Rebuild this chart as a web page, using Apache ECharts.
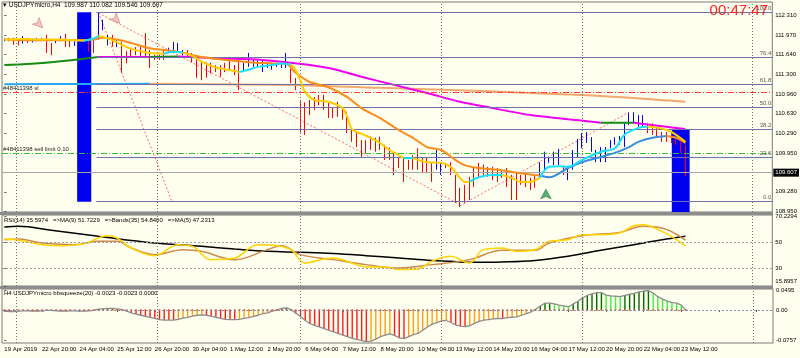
<!DOCTYPE html>
<html><head><meta charset="utf-8">
<script src="https://cdn.jsdelivr.net/npm/echarts@6/dist/echarts.min.js"></script>
<style>html,body{margin:0;padding:0;background:#fffff0}#c{width:800px;height:358px}</style>
</head><body><div id="c"></div>
<script>
// ---------------- DATA ----------------
const tickLabels = ['19 Apr 2019','22 Apr 20:00','24 Apr 04:00','25 Apr 12:00','26 Apr 20:00','30 Apr 04:00','1 May 12:00','2 May 20:00','6 May 04:00','7 May 12:00','8 May 20:00','10 May 04:00','13 May 12:00','14 May 20:00','16 May 04:00','17 May 12:00','20 May 20:00','22 May 04:00','23 May 12:00'];
// H4 bars [open, close, low, high]
const ohlc = [
[111.88,111.91,111.87,111.92],[111.91,111.89,111.87,111.93],[111.92,111.83,111.81,111.93],[111.88,111.82,111.80,111.90],
[111.84,111.95,111.83,111.96],[111.92,111.86,111.84,111.93],[111.86,111.91,111.85,111.92],[111.89,111.92,111.87,111.93],
[111.91,111.90,111.88,111.93],[111.95,111.70,111.67,111.98],[111.80,111.66,111.63,111.84],[111.85,111.90,111.84,111.91],
[111.88,111.95,111.87,111.96],[111.98,111.80,111.77,112.00],[111.88,111.79,111.77,111.89],[111.80,111.90,111.79,111.91],
[111.84,111.90,111.82,111.92],[111.86,111.92,111.84,111.94],[111.88,111.72,111.69,111.89],[111.86,111.70,111.67,111.89],
[111.92,112.25,111.90,112.36],[112.08,112.21,112.06,112.24],[111.82,111.96,111.80,111.98],[111.95,111.80,111.78,111.98],
[111.78,111.87,111.77,111.89],[111.84,111.36,111.33,111.86],[111.68,111.52,111.49,111.70],[111.74,111.62,111.60,111.76],
[111.74,111.65,111.63,111.77],[111.75,111.62,111.60,111.77],[111.80,111.62,111.60,112.01],[111.70,111.43,111.41,111.72],
[111.62,111.56,111.55,111.64],[111.62,111.56,111.55,111.64],[111.70,111.57,111.55,111.72],[111.68,111.74,111.67,111.76],
[111.68,111.83,111.67,111.86],[111.70,111.82,111.67,111.84],[111.65,111.70,111.63,111.72],[111.71,111.62,111.60,111.72],
[111.66,111.53,111.51,111.67],[111.59,111.27,111.24,111.60],[111.50,111.23,111.20,111.51],[111.50,111.26,111.24,111.51],
[111.48,111.35,111.32,111.50],[111.45,111.36,111.34,111.46],[111.45,111.28,111.26,111.46],[111.48,111.36,111.34,111.50],
[111.56,111.40,111.38,111.58],[111.45,111.31,111.29,111.46],[111.56,111.06,111.03,111.58],[111.36,111.48,111.34,111.50],
[111.45,111.64,111.43,111.67],[111.45,111.53,111.43,111.55],[111.44,111.53,111.41,111.55],[111.38,111.53,111.34,111.55],
[111.43,111.50,111.41,111.51],[111.40,111.48,111.38,111.50],[111.44,111.48,111.43,111.50],[111.43,111.49,111.41,111.50],
[111.44,111.52,111.41,111.67],[111.38,111.17,111.15,111.40],[111.22,111.05,111.03,111.24],[110.82,110.40,110.30,110.84],
[110.78,110.32,110.26,110.82],[110.84,110.62,110.60,110.86],[110.89,110.71,110.69,110.91],[110.93,110.79,110.77,110.95],
[110.93,110.71,110.69,110.95],[110.79,110.57,110.55,110.81],[110.72,110.57,110.55,110.74],[110.81,110.59,110.57,110.83],
[110.70,110.54,110.52,110.72],[110.64,110.32,110.29,110.66],[110.33,110.16,110.14,110.35],[110.28,110.08,110.05,110.30],
[110.16,109.91,109.88,110.17],[110.16,109.97,109.95,110.17],[110.21,110.02,110.00,110.23],[110.19,109.99,109.97,110.21],
[110.21,110.02,110.00,110.23],[110.07,109.85,109.83,110.09],[110.02,109.85,109.83,110.04],[109.93,109.60,109.57,109.95],
[109.86,109.71,109.69,109.88],[109.86,109.48,109.45,109.88],[109.81,109.68,109.66,109.83],[109.89,109.68,109.66,109.91],
[110.01,109.68,109.66,110.03],[109.84,109.63,109.60,109.86],[109.84,109.63,109.60,109.86],[109.76,109.48,109.45,109.78],
[109.68,109.97,109.66,110.00],[109.59,109.77,109.57,109.79],[109.76,109.71,109.69,109.78],[109.77,109.59,109.57,109.79],
[109.55,109.12,109.09,109.57],[109.33,109.05,109.02,109.35],[109.38,109.12,109.09,109.40],[109.52,109.17,109.14,109.54],
[109.69,109.39,109.36,109.71],[109.76,109.54,109.52,109.78],[109.73,109.56,109.54,109.75],[109.69,109.56,109.54,109.71],
[109.69,109.51,109.48,109.71],[109.67,109.47,109.45,109.69],[109.64,109.54,109.52,109.66],[109.67,109.39,109.36,109.69],
[109.55,109.17,109.14,109.57],[109.60,109.17,109.14,109.62],[109.55,109.42,109.40,109.57],[109.58,109.39,109.36,109.60],
[109.50,109.34,109.31,109.52],[109.55,109.37,109.35,109.57],[109.52,109.77,109.50,109.79],[109.68,109.94,109.66,109.97],
[109.79,109.86,109.78,109.88],[109.76,109.94,109.74,109.97],[109.76,109.99,109.74,110.02],[109.71,109.59,109.57,109.73],
[109.51,109.68,109.48,109.71],[109.68,109.97,109.66,110.00],[109.90,110.16,109.88,110.19],[110.06,110.27,110.03,110.29],
[110.14,110.29,110.12,110.31],[110.00,110.20,109.97,110.22],[109.82,109.98,109.79,110.00],[109.82,110.03,109.79,110.05],
[109.82,110.03,109.79,110.05],[110.06,110.15,110.03,110.17],[110.11,110.20,110.09,110.22],[110.11,110.22,110.09,110.24],
[110.06,110.44,110.05,110.46],[110.45,110.61,110.43,110.64],[110.48,110.63,110.46,110.65],[110.41,110.58,110.40,110.60],
[110.41,110.58,110.40,110.60],[110.45,110.31,110.29,110.46],[110.44,110.28,110.26,110.46],[110.38,110.24,110.22,110.40],
[110.29,110.16,110.14,110.31],[110.29,110.16,110.14,110.31],[110.28,110.14,110.12,110.29],[110.21,110.10,110.09,110.22],
[110.12,109.97,109.95,110.14],[109.987,109.607,109.546,110.082]
];
const bidPrice = 109.607;
const priceTicks = [108.95,109.28,109.95,110.29,110.63,110.96,111.30,111.64,111.97,112.31];

// moving averages, [bar index, price]
const fastMA = [[0,111.90],[4,111.91],[8,111.90],[12,111.90],[15,111.89],[17,111.88],[19,111.92],[20,111.96],[22,111.92],[24,111.85],[27,111.74],[31,111.67],[34,111.66],[36,111.69],[38,111.68],[40,111.62],[42,111.52],[45,111.42],[47,111.39],[50,111.34],[52,111.38],[54,111.43],[57,111.46],[59,111.49],[61,111.47],[62,111.38],[63,111.20],[64,111.00],[66,110.86],[69,110.83],[72,110.72],[73,110.57],[74,110.36],[76,110.28],[78,110.21],[80,110.12],[82,110.00],[84,109.91],[85,109.86],[87,109.86],[88,109.83],[90,109.79],[93,109.78],[95,109.71],[97,109.52],[98,109.45],[99,109.45],[101,109.53],[104,109.57],[106,109.57],[108,109.52],[110,109.45],[112,109.45],[113,109.48],[114,109.52],[116,109.71],[118,109.72],[120,109.71],[123,109.83],[127,109.97],[130,110.03],[132,110.26],[135,110.38],[137,110.40],[140,110.37],[142,110.31],[145,110.14]];
const fastMAState = [[0,17,'down'],[17,20,'up'],[20,34,'down'],[34,38,'up'],[38,50,'down'],[50,61,'up'],[61,85,'down'],[85,87,'up'],[87,99,'down'],[99,106,'up'],[106,114,'down'],[114,137,'up'],[137,145,'down']];
const slowMA = [[0,111.90],[5,111.89],[10,111.89],[15,111.89],[19,111.90],[21,111.93],[24,111.90],[27,111.84],[31,111.75],[34,111.72],[37,111.69],[42,111.60],[47,111.55],[52,111.51],[57,111.49],[60,111.48],[62,111.33],[65,111.17],[69,111.08],[73,110.91],[76,110.72],[80,110.55],[84,110.34],[87,110.21],[90,110.05],[93,110.00],[96,109.83],[98,109.74],[101,109.69],[105,109.66],[110,109.60],[114,109.56],[116,109.53],[120,109.69],[123,109.79],[127,109.88],[130,109.95],[133,110.05],[135,110.14],[138,110.21],[141,110.24],[143,110.21],[145,110.12]];
const slowMAState = [[0,114,'down'],[114,141,'up'],[141,145,'down']];
const longMA = [[0,111.46],[10,111.51],[20,111.60],[25,111.60],[31,111.60],[37,111.61],[45,111.58],[55,111.55],[61,111.50],[69,111.41],[76,111.26],[83,111.12],[90,110.98],[97,110.83],[104,110.72],[112,110.60],[120,110.53],[127,110.47],[134,110.47],[141,110.40],[145,110.36]];
const longMAState = [[0,20,'up'],[20,31,'down'],[31,37,'up'],[37,127,'down'],[127,134,'up'],[134,145,'down']];
const baseMA = [[0,111.13],[15,111.135],[31,111.14],[45,111.13],[61,111.12],[80,111.07],[100,111.02],[112,110.98],[127,110.93],[145,110.83]];
const baseMAState = [[0,31,'up'],[31,145,'down']];

// drawn objects
const fibNames = ['100.0','76.4','61.8','50.0','38.2','23.6','0.0'];
const fibPrices = [112.37,111.60,111.125,110.74,110.355,109.88,109.11];
const fibStartBar = 19.6;
const fibDiagonal = [[20,112.37],[35.7,109.11]];
const trendDown = [[20,112.36],[97,109.06]];
const trendUp = [[97,109.04],[133,110.65]];
const slPrice = 110.99, limitPrice = 109.95;
const blueZones = [[15.5,18.5,112.37,109.11],[142.1,145.9,110.36,108.93]];
const sellArrows = [[8.2,112.10],[24.6,112.18]];
const buyArrows = [[115.3,109.33]];
const vGrid = [2.55,32.6,62.9,93.0,123.0,159.3];

// RSI panel
const rsiBands = [[0,62.0],[3,62.5],[10,59.4],[20,54.7],[32,49.5],[42,46.9],[49,44.8],[56,43.0],[63,42.2],[70,41.2],[77,39.6],[84,37.8],[91,35.9],[95,35.2],[99,34.4],[106,34.7],[113,35.9],[120,39.1],[127,43.8],[134,48.2],[141,52.6],[145,54.84]];
const rsiMa9 = [[0,52.1],[3,52.6],[8,49.5],[15,48.2],[20,50.8],[24,50.8],[27,45.6],[32,40.4],[38,44.3],[42,43.0],[49,36.5],[56,44.3],[59,47.4],[63,40.4],[70,36.5],[77,32.6],[84,30.0],[91,32.6],[99,36.5],[106,43.8],[113,43.8],[116,49.5],[123,55.2],[131,57.8],[136,62.5],[140,61.2],[145,51.72]];
const rsiMa5 = [[0,52.6],[3,51.6],[8,48.2],[12,47.4],[17,49.0],[22,55.2],[24,53.4],[27,45.6],[32,39.6],[37,48.2],[40,46.9],[44,36.5],[49,37.8],[54,48.2],[58,47.4],[61,44.3],[64,33.9],[68,37.0],[70,37.8],[74,33.9],[77,30.8],[81,30.8],[84,28.7],[88,29.2],[91,35.2],[95,39.1],[99,33.9],[102,44.3],[106,45.6],[109,43.0],[113,44.3],[116,50.8],[120,52.1],[123,56.0],[127,56.0],[131,57.3],[134,63.0],[136,63.8],[140,58.6],[142,54.7],[145,47.23]];
const rsiLevels = [30,50];
const rsiTicks = [15.8957,30,50,70.2294];

// bbsqueeze panel
const squeeze = [
-0.003,-0.004,-0.004,-0.003,-0.002,-0.002,-0.003,-0.003,-0.002,-0.001,-0.001,-0.002,-0.003,-0.003,-0.002,-0.002,-0.003,-0.003,-0.002,-0.001,
0.002,0.003,0.004,0.004,0.003,0.001,-0.003,-0.007,-0.010,-0.013,
-0.016,-0.018,-0.021,-0.024,-0.025,-0.025,-0.025,-0.023,-0.020,-0.018,
-0.015,-0.013,-0.012,-0.013,-0.015,-0.018,-0.021,-0.023,-0.024,-0.024,
-0.023,-0.021,-0.019,-0.016,-0.013,-0.009,-0.007,-0.003,0.000,0.004,
0.005,0.001,-0.008,-0.016,-0.026,-0.034,-0.038,-0.042,-0.046,-0.050,
-0.054,-0.058,-0.062,-0.066,-0.070,-0.073,-0.076,-0.078,-0.077,-0.072,
-0.066,-0.062,-0.059,-0.063,-0.069,-0.071,-0.066,-0.061,-0.058,-0.050,
-0.042,-0.035,-0.031,-0.027,-0.026,-0.031,-0.037,-0.040,-0.041,-0.039,
-0.033,-0.028,-0.025,-0.024,-0.022,-0.021,-0.021,-0.019,-0.018,-0.017,
-0.013,-0.009,-0.005,0.002,0.010,0.017,0.017,0.015,0.012,0.010,
0.008,0.015,0.021,0.030,0.036,0.040,0.043,0.043,0.037,0.035,
0.034,0.033,0.036,0.039,0.041,0.045,0.047,0.048,0.042,0.033,
0.027,0.022,0.019,0.017,0.012,-0.0023
];
const squeezeTicks = [-0.0757,0,0.0495];

// texts
const mainTitle = '\u25BE USDJPYmicro,H4  109.987 110.082 109.546 109.607';
const clockText = '00:47:47';
const rsiTitle = 'RSI(14) 35.5974   =>MA(9) 51.7229   =>Bands(35) 54.8400   =>MA(5) 47.2313';
const sqzTitle = 'H4 USDJPYmicro bbsqueeze(20) -0.0023 -0.0023 0.0000';

// ---------------- CHART ----------------
const FONT = 'Liberation Sans';
const SLOTS = 164;
const cats = Array.from({length: SLOTS}, (_, i) => String(i));
const palette = {
  fast: {up: '#19e0ff', down: '#ffcc00'},
  slow: {up: '#3c8de0', down: '#ff8c1a'},
  long: {up: '#148c14', down: '#f000f0'},
  base: {up: '#2aa6f2', down: '#f2a86c'}
};
function segSeries(points, states, pal, width, z) {
  return states.map(([a, b, st]) => ({
    type: 'line', xAxisIndex: 1, yAxisIndex: 0, silent: true, animation: false, z: z,
    data: points.filter(p => p[0] >= a && p[0] <= b), showSymbol: false, smooth: 0.35,
    lineStyle: {color: pal[st], width: width}
  }));
}
const vGridMark = (color) => ({
  silent: true, symbol: 'none', animation: false, label: {show: false},
  lineStyle: {color: color, type: [1, 2], width: 1}, data: vGrid.map(v => ({xAxis: v}))
});
const valX = (g) => ({type: 'value', gridIndex: g, min: -0.5, max: SLOTS - 0.5, show: false});
const smallLabel = {fontSize: 6, fontFamily: FONT, color: '#000'};

const series = [];
// objects behind candles
series.push({
  type: 'line', xAxisIndex: 1, yAxisIndex: 0, data: fibDiagonal, showSymbol: false, silent: true, z: 2, animation: false,
  lineStyle: {color: '#ff6a6a', width: 1, type: [2, 2]},
  markArea: {silent: true, itemStyle: {color: '#0000f0', opacity: 1},
    data: blueZones.map(b => [{coord: [b[0], b[2]]}, {coord: [b[1], b[3]]}])},
  markLine: vGridMark('#707070')
});
series.push({
  type: 'line', xAxisIndex: 1, yAxisIndex: 0, data: trendDown, showSymbol: false, silent: true, z: 2, animation: false,
  lineStyle: {color: '#ff6a6a', width: 1, type: [2, 2]},
  markLine: {silent: true, symbol: 'none', animation: false,
    lineStyle: {color: '#7070ac', width: 1.2, type: 'solid'},
    label: {position: 'insideEndTop', formatter: '{b}', fontSize: 6, fontFamily: FONT, color: '#5a5a5a', distance: 1},
    data: fibPrices.map((p, k) => [{coord: [fibStartBar, p], name: fibNames[k]}, {coord: [SLOTS - 0.5, p]}])}
});
series.push({
  type: 'line', xAxisIndex: 1, yAxisIndex: 0, data: trendUp, showSymbol: false, silent: true, z: 2, animation: false,
  lineStyle: {color: '#ff6a6a', width: 1, type: [2, 2]},
  markLine: {silent: true, symbol: 'none', animation: false,
    label: {position: 'insideStartTop', formatter: '{b}', fontSize: 6, fontFamily: FONT, color: '#222', distance: 1},
    data: [
      [{coord: [-0.5, slPrice], name: '#48411398 sl', lineStyle: {color: '#ff3a3a', width: 1, type: [6, 2, 1, 2]}}, {coord: [SLOTS - 0.5, slPrice]}],
      [{coord: [-0.5, limitPrice], name: '#48411398 sell limit 0.10', lineStyle: {color: '#3cbc3c', width: 1, type: [6, 2, 1, 2]}}, {coord: [SLOTS - 0.5, limitPrice]}]
    ]}
});
// candles
series.push({
  type: 'candlestick', xAxisIndex: 0, yAxisIndex: 0, data: ohlc, barWidth: 1.2, z: 3, animation: false, silent: true,
  itemStyle: {color: '#0000ff', color0: '#ff0000', borderColor: '#0000ff', borderColor0: '#ff0000', borderWidth: 1},
  markLine: {silent: true, symbol: 'none', animation: false, data: [{yAxis: bidPrice}],
    lineStyle: {color: '#a8a8a8', type: 'solid', width: 1},
    label: {position: 'end', formatter: bidPrice.toFixed(3), backgroundColor: '#000', color: '#fff',
      fontSize: 6, fontFamily: FONT, padding: [1, 2, 1, 2], distance: 1}}
});
// moving averages
series.push(...segSeries(baseMA, baseMAState, palette.base, 2, 4));
series.push(...segSeries(longMA, longMAState, palette.long, 2, 4));
series.push(...segSeries(slowMA, slowMAState, palette.slow, 2, 5));
series.push(...segSeries(fastMA, fastMAState, palette.fast, 2, 6));
// arrows
series.push({type: 'scatter', xAxisIndex: 1, yAxisIndex: 0, data: sellArrows, symbol: 'arrow', symbolSize: [7, 10],
  symbolRotate: -135, silent: true, z: 6, animation: false, itemStyle: {color: '#f0b4b4', borderColor: '#c86a6a', borderWidth: 0.6}});
series.push({type: 'scatter', xAxisIndex: 1, yAxisIndex: 0, data: buyArrows, symbol: 'arrow', symbolSize: [8, 10],
  silent: true, z: 6, animation: false, itemStyle: {color: '#2f9a52', borderColor: '#1c6a34', borderWidth: 0.6}});

// RSI panel
series.push({type: 'line', xAxisIndex: 2, yAxisIndex: 1, data: rsiBands, showSymbol: false, smooth: 0.4, silent: true, animation: false,
  lineStyle: {color: '#000', width: 1.5}, markLine: vGridMark('#707070')});
series.push({type: 'line', xAxisIndex: 2, yAxisIndex: 1, data: rsiMa9, showSymbol: false, smooth: 0.4, silent: true, animation: false,
  lineStyle: {color: '#cd8a4a', width: 1.5},
  markLine: {silent: true, symbol: 'none', animation: false, label: {show: false},
    lineStyle: {color: '#a0a0a0', type: [2, 2], width: 1}, data: rsiLevels.map(v => ({yAxis: v}))}});
series.push({type: 'line', xAxisIndex: 2, yAxisIndex: 1, data: rsiMa5, showSymbol: false, smooth: 0.4, silent: true, animation: false,
  lineStyle: {color: '#ffd400', width: 1.5}});

// squeeze panel
series.push({type: 'bar', xAxisIndex: 3, yAxisIndex: 2, data: squeeze, barWidth: 1.4, silent: true, animation: false,
  itemStyle: {color: (p) => {
    const v = p.value, prev = p.dataIndex > 0 ? squeeze[p.dataIndex - 1] : v;
    if (v >= 0) return v >= prev ? '#006a00' : '#3cf03c';
    return v <= prev ? '#ff1a1a' : '#ffa010';
  }}});
series.push({type: 'line', xAxisIndex: 4, yAxisIndex: 2, data: squeeze.map((v, i) => [i, v]), showSymbol: false, silent: true, animation: false,
  lineStyle: {color: '#8c8c8c', width: 1.3}, markLine: vGridMark('#707070'), z: 3});
series.push({type: 'scatter', xAxisIndex: 3, yAxisIndex: 2, data: squeeze.map(() => 0), symbolSize: 2.2, silent: true, animation: false,
  itemStyle: {color: '#d0602a'}, z: 4,
  markLine: {silent: true, symbol: 'none', animation: false, label: {show: false},
    lineStyle: {color: '#8a8ab8', type: [2, 2], width: 1}, data: [{yAxis: 0}]}});

const option = {
  animation: false,
  backgroundColor: '#fffff0',
  textStyle: {fontFamily: FONT},
  grid: [
    {left: 2, right: 27, top: 2, height: 210, show: true, borderColor: '#7a7a7a', borderWidth: 1},
    {left: 2, right: 27, top: 215, height: 71, show: true, borderColor: '#7a7a7a', borderWidth: 1},
    {left: 2, right: 27, top: 289, height: 54, show: true, borderColor: '#7a7a7a', borderWidth: 1}
  ],
  xAxis: [
    {type: 'category', gridIndex: 0, data: cats, boundaryGap: true, show: false},
    valX(0),
    valX(1),
    {type: 'category', gridIndex: 2, data: cats, boundaryGap: true,
      axisLine: {show: false},
      axisTick: {show: true, interval: 7, alignWithLabel: true, length: 2, lineStyle: {color: '#555'}},
      axisLabel: {interval: 7, align: 'left', margin: 3, ...smallLabel,
        formatter: (v, i) => (i % 8 === 0 && tickLabels[i / 8]) ? tickLabels[i / 8] : ''}},
    valX(2)
  ],
  yAxis: [
    {type: 'value', gridIndex: 0, position: 'right', min: 108.933, max: 112.546, splitLine: {show: false},
      axisLine: {show: false}, axisTick: {show: true, length: 2, customValues: priceTicks, lineStyle: {color: '#555'}},
      axisLabel: {customValues: priceTicks, margin: 3, ...smallLabel, formatter: v => v.toFixed(3)}},
    {type: 'value', gridIndex: 1, position: 'right', min: 15.8957, max: 71.37, splitLine: {show: false},
      axisLine: {show: false}, axisTick: {show: true, length: 2, customValues: rsiTicks, lineStyle: {color: '#555'}},
      axisLabel: {customValues: rsiTicks, margin: 3, ...smallLabel,
        rich: {lo: {fontSize: 6, fontFamily: FONT, color: '#000', padding: [0, 0, 9, 0]}},
        formatter: v => (v === 30 || v === 50) ? String(v) : (v < 20 ? '{lo|' + v.toFixed(4) + '}' : v.toFixed(4))}},
    {type: 'value', gridIndex: 2, position: 'right', min: -0.0817, max: 0.052, splitLine: {show: false},
      axisLine: {show: false}, axisTick: {show: true, length: 2, customValues: squeezeTicks, lineStyle: {color: '#555'}},
      axisLabel: {customValues: squeezeTicks, margin: 3, ...smallLabel, formatter: v => v === 0 ? '0.00' : v.toFixed(4)}}
  ],
  graphic: [
    {type: 'rect', left: 0, top: 212, shape: {width: 773, height: 3}, style: {fill: '#8c8c8c'}, silent: true},
    {type: 'rect', left: 0, top: 286, shape: {width: 773, height: 3}, style: {fill: '#8c8c8c'}, silent: true},
    {type: 'text', left: 3, top: 2, z: 100, style: {text: mainTitle, font: '6.5px "Liberation Sans"', fill: '#000'}},
    {type: 'text', right: 32, top: 3, z: 100, style: {text: clockText, font: '15px "Liberation Sans"', fill: '#ff2222'}},
    {type: 'text', left: 4, top: 217, z: 100, style: {text: rsiTitle, font: '6px "Liberation Sans"', fill: '#000'}},
    {type: 'text', left: 4, top: 290, z: 100, style: {text: sqzTitle, font: '6px "Liberation Sans"', fill: '#000'}}
  ],
  series: series
};
const chart = echarts.init(document.getElementById('c'), null, {renderer: 'canvas'});
chart.setOption(option);
</script>
</body></html>
